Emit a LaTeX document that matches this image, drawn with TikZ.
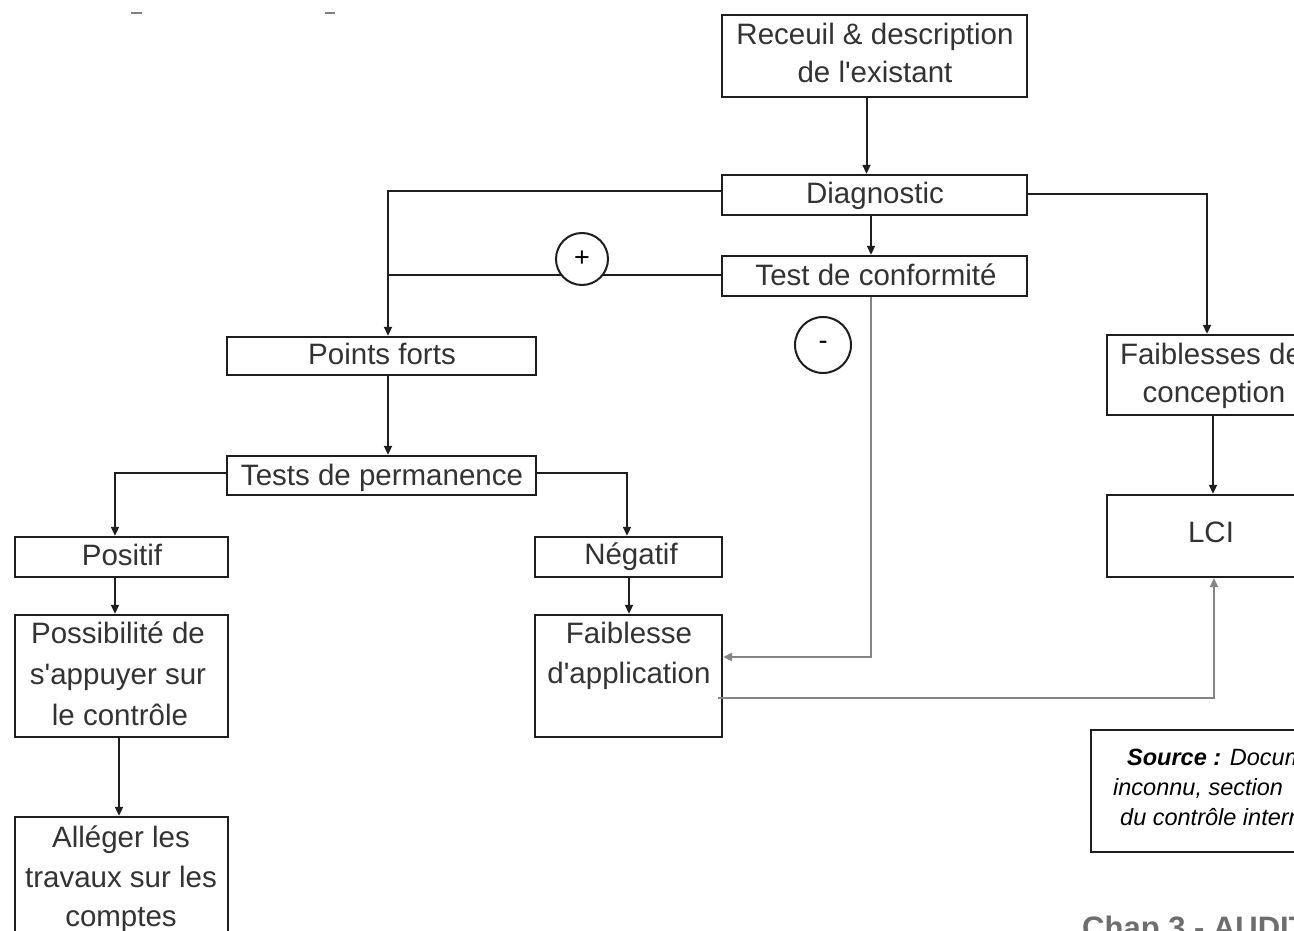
\documentclass[tikz,border=0pt]{standalone}
\usepackage{fontspec}
\setmainfont{Liberation Sans}
\usetikzlibrary{arrows.meta,calc}
\definecolor{ink}{HTML}{1E1E1E}
\definecolor{txt}{HTML}{333333}
\definecolor{pale}{HTML}{858585}
\definecolor{chap}{HTML}{6E6E6E}
\newcommand{\ap}{\textquotesingle}
\tikzset{
  box/.style={draw=ink, line width=2.4pt, fill=white, rectangle, inner sep=0pt},
  lbl/.style={anchor=base, inner sep=0pt, text=txt, font=\fontsize{29.5}{36}\selectfont},
  conn/.style={draw=ink, line width=2pt, -{Triangle[length=9pt,width=8pt]}},
  plainconn/.style={draw=ink, line width=2pt},
  softconn/.style={draw=pale, line width=2.2pt, -{Triangle[length=9pt,width=8pt]}},
  sign/.style={circle, draw=ink, line width=2pt, fill=white, minimum size=#1, inner sep=0pt,
    font=\fontsize{27}{30}\selectfont},
  srcline/.style={anchor=base west, inner sep=0pt, text=black, font=\fontsize{23.5}{28}\selectfont\itshape},
}
\begin{document}
\begin{tikzpicture}[x=1pt,y=-1pt]
\useasboundingbox (0,0) rectangle (1294,931);
\fill[white] (0,0) rectangle (1294,931);
\clip (0,0) rectangle (1294,931);

% leftover marks along the top edge
\draw[gray, line width=2pt] (131,13) -- (142,13);
\draw[gray, line width=2pt] (325,13) -- (335,13);

% boxes
\node[box, minimum width=305, minimum height=82] (rec)  at (874.5,56)  {};
\node[box, minimum width=305, minimum height=40] (diag) at (874.5,195) {};
\node[box, minimum width=305, minimum height=40] (conf) at (874.5,276) {};
\node[box, minimum width=309, minimum height=38] (pf)   at (381.5,356) {};
\node[box, minimum width=309, minimum height=39] (perm) at (381.5,475.5) {};
\node[box, minimum width=213, minimum height=40] (pos)  at (121.5,557) {};
\node[box, minimum width=213, minimum height=122] (poss) at (121.5,676) {};
\node[box, minimum width=213, minimum height=173] (alg)  at (121.5,903.5) {};
\node[box, minimum width=187, minimum height=40] (neg)  at (628.5,557) {};
\node[box, minimum width=187, minimum height=122] (fa)  at (628.5,676) {};
\node[box, minimum width=210, minimum height=80] (fc)   at (1212,375) {};
\node[box, minimum width=210, minimum height=82] (lci)  at (1212,536) {};
\node[box, minimum width=309, minimum height=122] (src) at (1245.5,791) {};

% box texts
\node[lbl] (t-rec1) at (875,45) {Receuil \& description};
\node[lbl] (t-rec2) at (875,83) {de l\ap existant};
\node[lbl] (t-diag) at (875,204) {Diagnostic};
\node[lbl] (t-conf) at (876,285) {Test de conformité};
\node[lbl] (t-pf)   at (382,364) {Points forts};
\node[lbl] (t-perm) at (382,485) {Tests de permanence};
\node[lbl] (t-pos)  at (122,565) {Positif};
\node[lbl] (t-poss1) at (118,643) {Possibilité de};
\node[lbl] (t-poss2) at (118,684) {s\ap appuyer sur};
\node[lbl] (t-poss3) at (120,725) {le contrôle};
\node[lbl] (t-alg1) at (121,847) {Alléger les};
\node[lbl] (t-alg2) at (121,887) {travaux sur les};
\node[lbl] (t-alg3) at (121,926) {comptes};
\node[lbl] (t-neg)  at (631,564) {Négatif};
\node[lbl] (t-fa1)  at (629,643) {Faiblesse};
\node[lbl] (t-fa2)  at (629,683) {d\ap application};
\node[lbl] (t-fc1)  at (1211,364) {Faiblesses de};
\node[lbl] (t-fc2)  at (1214,402) {conception};
\node[lbl] (t-lci)  at (1211,542) {LCI};

% source note
\node[srcline] (s1) at (1127,765) {\textbf{Source :} Document};
\node[srcline] (s2) at (1113,795) {inconnu, section};
\node[srcline] (s3) at (1120,825) {du contrôle interne};

% footer
\node[anchor=base west, inner sep=0pt, text=chap, font=\fontsize{31}{34}\selectfont\bfseries]
  (chap) at (1082,938) {Chap 3 - AUDIT};

% connectors
\coordinate (join) at (388,275);
\draw[conn] ([xshift=-8pt]rec.south) -- ([xshift=-8pt]diag.north);
\draw[conn] ([xshift=-3.5pt]diag.south) -- ([xshift=-3.5pt]conf.north);
\draw[conn] ([yshift=4pt]diag.west) -| ([xshift=6.5pt]pf.north);
\draw[plainconn] ([yshift=1pt]conf.west) -- (join);
\draw[conn] ([yshift=1pt]diag.east) -| ([xshift=-5pt]fc.north);
\draw[conn] ([xshift=6.5pt]pf.south) -- ([xshift=6.5pt]perm.north);
\draw[conn] ([yshift=2.5pt]perm.west) -| ([xshift=-6.5pt]pos.north);
\draw[conn] ([yshift=2.5pt]perm.east) -| ([xshift=-1.5pt]neg.north);
\draw[conn] ([xshift=-6.5pt]pos.south) -- ([xshift=-6.5pt]poss.north);
\draw[conn] ([xshift=-2.5pt]poss.south) -- ([xshift=-2.5pt]alg.north);
\draw[conn] ([xshift=0.5pt]neg.south) -- ([xshift=0.5pt]fa.north);
\draw[conn] ([xshift=1pt]fc.south) -- ([xshift=1pt]lci.north);
\draw[softconn] ([xshift=-3.5pt]conf.south) |- ([yshift=19pt]fa.east);
\draw[softconn] ([xshift=-5pt,yshift=-22pt]fa.east) -| ([xshift=2pt]lci.south);

% outcome marks
\node[sign=52] (plus)  at (582,259) {+};
\node[sign=56] (minus) at (823,345) {-};
\end{tikzpicture}
\end{document}
